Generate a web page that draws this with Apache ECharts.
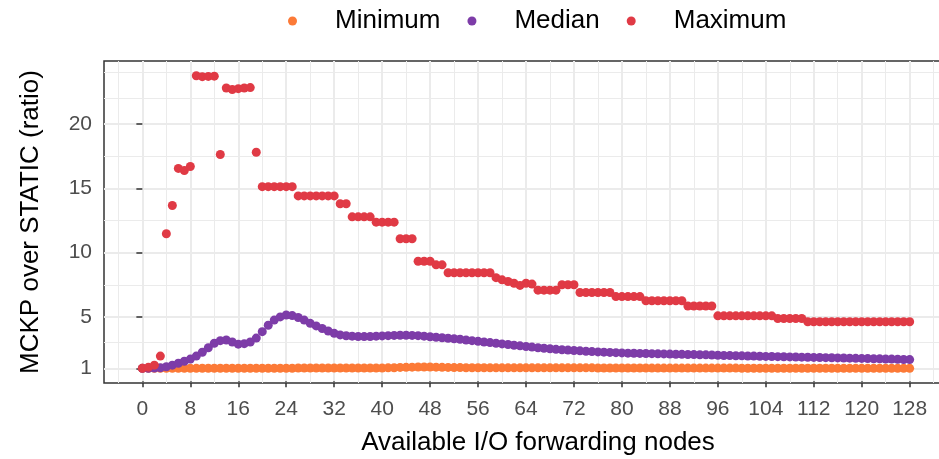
<!DOCTYPE html>
<html>
<head>
<meta charset="utf-8">
<script src="https://cdn.jsdelivr.net/npm/echarts@6/dist/echarts.min.js"></script>
<style>
  html, body { margin: 0; padding: 0; background: #ffffff; }
  #chart { width: 939px; height: 459px; }
</style>
</head>
<body>
<div id="chart"></div>
<script>
// Number of I/O forwarding nodes made available
const nodes = [
  0, 1, 2, 3, 4, 5, 6, 7, 8, 9, 10, 11, 12, 13, 14, 15, 16, 17, 18, 19,
  20, 21, 22, 23, 24, 25, 26, 27, 28, 29, 30, 31, 32, 33, 34, 35, 36, 37, 38, 39,
  40, 41, 42, 43, 44, 45, 46, 47, 48, 49, 50, 51, 52, 53, 54, 55, 56, 57, 58, 59,
  60, 61, 62, 63, 64, 65, 66, 67, 68, 69, 70, 71, 72, 73, 74, 75, 76, 77, 78, 79,
  80, 81, 82, 83, 84, 85, 86, 87, 88, 89, 90, 91, 92, 93, 94, 95, 96, 97, 98, 99,
  100, 101, 102, 103, 104, 105, 106, 107, 108, 109, 110, 111, 112, 113, 114, 115, 116, 117, 118, 119,
  120, 121, 122, 123, 124, 125, 126, 127, 128
];

// MCKP / STATIC ratio, minimum over the runs
const minimumRatio = [
  1.00, 1.00, 1.00, 1.00, 1.00, 1.00, 1.00, 1.00, 1.00, 1.00, 1.01, 1.01, 1.01, 1.01, 1.01, 1.01, 1.01, 1.01, 1.01, 1.01,
  1.01, 1.01, 1.01, 1.01, 1.01, 1.01, 1.03, 1.03, 1.03, 1.03, 1.03, 1.03, 1.03, 1.03, 1.03, 1.03, 1.03, 1.03, 1.03, 1.03,
  1.03, 1.04, 1.05, 1.07, 1.08, 1.09, 1.10, 1.10, 1.10, 1.09, 1.08, 1.07, 1.06, 1.06, 1.05, 1.05, 1.05, 1.05, 1.04, 1.04,
  1.04, 1.04, 1.04, 1.04, 1.04, 1.04, 1.04, 1.04, 1.04, 1.04, 1.04, 1.04, 1.04, 1.04, 1.04, 1.04, 1.03, 1.03, 1.03, 1.03,
  1.03, 1.03, 1.03, 1.03, 1.03, 1.02, 1.02, 1.02, 1.02, 1.02, 1.02, 1.02, 1.02, 1.02, 1.02, 1.02, 1.02, 1.02, 1.02, 1.02,
  1.01, 1.01, 1.01, 1.01, 1.01, 1.01, 1.01, 1.01, 1.01, 1.01, 1.01, 1.01, 1.01, 1.01, 1.01, 1.01, 1.00, 1.00, 1.00, 1.00,
  1.00, 1.00, 1.00, 1.00, 1.00, 1.00, 1.00, 1.00, 1.00
];

// MCKP / STATIC ratio, median over the runs
const medianRatio = [
  1.00, 1.00, 1.02, 1.05, 1.12, 1.25, 1.40, 1.55, 1.72, 1.95, 2.25, 2.60, 2.95, 3.15, 3.20, 3.05, 2.88, 2.92, 3.05, 3.35,
  3.85, 4.35, 4.75, 5.00, 5.15, 5.10, 4.95, 4.75, 4.50, 4.30, 4.10, 3.90, 3.72, 3.60, 3.53, 3.50, 3.48, 3.47, 3.48, 3.50,
  3.52, 3.54, 3.56, 3.57, 3.57, 3.56, 3.54, 3.50, 3.46, 3.42, 3.38, 3.34, 3.30, 3.26, 3.20, 3.15, 3.10, 3.05, 3.00, 2.95,
  2.90, 2.85, 2.80, 2.75, 2.70, 2.65, 2.60, 2.56, 2.52, 2.48, 2.45, 2.42, 2.39, 2.36, 2.33, 2.30, 2.28, 2.26, 2.24, 2.22,
  2.20, 2.18, 2.17, 2.16, 2.15, 2.14, 2.13, 2.12, 2.11, 2.10, 2.09, 2.08, 2.07, 2.06, 2.05, 2.04, 2.02, 2.00, 1.99, 1.98,
  1.97, 1.96, 1.95, 1.94, 1.93, 1.92, 1.91, 1.90, 1.89, 1.88, 1.87, 1.86, 1.85, 1.84, 1.83, 1.82, 1.81, 1.80, 1.79, 1.78,
  1.77, 1.76, 1.75, 1.74, 1.73, 1.72, 1.71, 1.69, 1.68
];

// MCKP / STATIC ratio, maximum over the runs
const maximumRatio = [
  1.00, 1.08, 1.25, 1.95, 11.47, 13.66, 16.55, 16.38, 16.70, 23.75, 23.68, 23.70, 23.72, 17.63, 22.80, 22.68, 22.75, 22.80, 22.83, 17.80,
  15.13, 15.13, 15.13, 15.13, 15.13, 15.13, 14.41, 14.41, 14.41, 14.41, 14.41, 14.41, 14.41, 13.80, 13.80, 12.78, 12.78, 12.78, 12.78, 12.37,
  12.37, 12.37, 12.37, 11.08, 11.08, 11.08, 9.33, 9.33, 9.33, 9.05, 9.05, 8.43, 8.43, 8.43, 8.43, 8.43, 8.43, 8.43, 8.43, 8.05,
  7.88, 7.75, 7.62, 7.45, 7.62, 7.55, 7.08, 7.08, 7.08, 7.08, 7.50, 7.50, 7.50, 6.90, 6.90, 6.90, 6.90, 6.90, 6.90, 6.58,
  6.58, 6.58, 6.58, 6.58, 6.26, 6.26, 6.26, 6.26, 6.26, 6.26, 6.26, 5.85, 5.85, 5.85, 5.85, 5.85, 5.08, 5.08, 5.08, 5.08,
  5.08, 5.08, 5.08, 5.08, 5.08, 5.08, 4.88, 4.88, 4.88, 4.88, 4.88, 4.62, 4.62, 4.62, 4.62, 4.62, 4.62, 4.62, 4.62, 4.62,
  4.62, 4.62, 4.62, 4.62, 4.62, 4.62, 4.62, 4.62, 4.62
];

const seriesNames = ['Minimum', 'Median', 'Maximum'];
const seriesColors = ['#fc7a37', '#7d3ca8', '#e03a45'];

// Axis breaks and the lighter in-between grid lines
const xTicks = [0, 8, 16, 24, 32, 40, 48, 56, 64, 72, 80, 88, 96, 104, 112, 120, 128];
const xMinorLines = [-4, 4, 12, 20, 28, 36, 44, 52, 60, 68, 76, 84, 92, 100, 108, 116, 124, 132];
const yTicks = [1, 5, 10, 15, 20];
const yMinorLines = [3, 7.5, 12.5, 17.5, 22, 24];

const FONT = 'Liberation Sans';
const xRange = [-6.4, 138.4];
const yRange = [-0.14, 24.9];

function pairs(values) {
  return nodes.map((n, i) => [n, values[i]]);
}

const chart = echarts.init(document.getElementById('chart'), null, { renderer: 'canvas' });

chart.setOption({
  animation: false,
  backgroundColor: '#ffffff',
  textStyle: { fontFamily: FONT },
  legend: {
    top: 8,
    left: 288,
    padding: 0,
    itemWidth: 9,
    itemHeight: 9,
    itemGap: 27,
    icon: 'circle',
    data: seriesNames,
    textStyle: { fontFamily: FONT, fontSize: 26, color: '#000000', padding: [0, 0, 0, 33] }
  },
  grid: {
    left: 104,
    top: 61,
    width: 868,
    height: 322,
    show: true,
    backgroundColor: '#ffffff',
    borderColor: '#333333',
    borderWidth: 1.5,
    containLabel: false,
    outerBoundsMode: 'none'
  },
  xAxis: [
    {
      type: 'value',
      min: xRange[0],
      max: xRange[1],
      position: 'bottom',
      name: 'Available I/O forwarding nodes',
      nameLocation: 'middle',
      nameGap: 47,
      nameTextStyle: { fontFamily: FONT, fontSize: 26, color: '#000000' },
      axisLine: { show: false },
      axisTick: { show: true, customValues: xTicks, length: 6, lineStyle: { color: '#333333', width: 1.5 } },
      axisLabel: { show: true, customValues: xTicks, margin: 16, fontFamily: FONT, fontSize: 21, color: '#4d4d4d' },
      splitLine: { show: true, lineStyle: { color: '#ebebeb', width: 2 } }
    },
    {
      type: 'value',
      min: xRange[0],
      max: xRange[1],
      position: 'top',
      axisLine: { show: false },
      axisTick: { show: false, customValues: xMinorLines },
      axisLabel: { show: false, customValues: xMinorLines },
      splitLine: { show: true, lineStyle: { color: '#ebebeb', width: 1 } }
    }
  ],
  yAxis: [
    {
      type: 'value',
      min: yRange[0],
      max: yRange[1],
      position: 'left',
      name: 'MCKP over STATIC (ratio)',
      nameLocation: 'middle',
      nameRotate: 90,
      nameGap: 60,
      nameTextStyle: { fontFamily: FONT, fontSize: 26, color: '#000000' },
      axisLine: { show: false },
      axisTick: { show: true, customValues: yTicks, length: 6, lineStyle: { color: '#333333', width: 1.5 } },
      axisLabel: { show: true, customValues: yTicks, margin: 12, fontFamily: FONT, fontSize: 21, color: '#4d4d4d' },
      splitLine: { show: true, lineStyle: { color: '#ebebeb', width: 2 } }
    },
    {
      type: 'value',
      min: yRange[0],
      max: yRange[1],
      position: 'right',
      axisLine: { show: false },
      axisTick: { show: false, customValues: yMinorLines },
      axisLabel: { show: false, customValues: yMinorLines },
      splitLine: { show: true, lineStyle: { color: '#ebebeb', width: 1 } }
    }
  ],
  series: [
    { name: seriesNames[0], type: 'scatter', data: pairs(minimumRatio), symbolSize: 9, itemStyle: { color: seriesColors[0], opacity: 1 }, xAxisIndex: 0, yAxisIndex: 0 },
    { name: seriesNames[1], type: 'scatter', data: pairs(medianRatio), symbolSize: 9, itemStyle: { color: seriesColors[1], opacity: 1 }, xAxisIndex: 0, yAxisIndex: 0 },
    { name: seriesNames[2], type: 'scatter', data: pairs(maximumRatio), symbolSize: 9, itemStyle: { color: seriesColors[2], opacity: 1 }, xAxisIndex: 0, yAxisIndex: 0 }
  ]
});
</script>
</body>
</html>
